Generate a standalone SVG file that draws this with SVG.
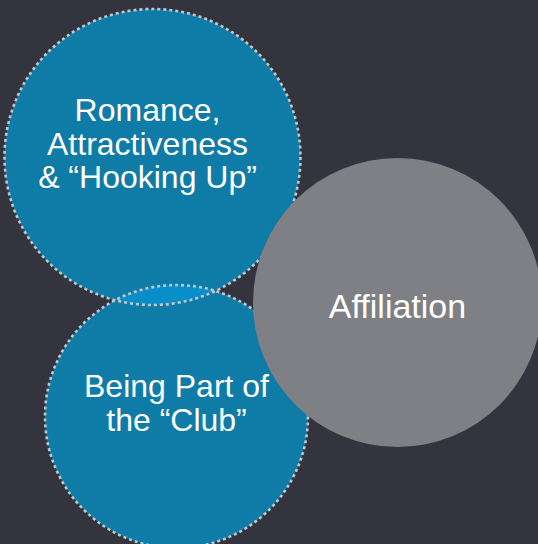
<svg xmlns="http://www.w3.org/2000/svg" width="538" height="544" viewBox="0 0 538 544">
  <style>
    .lbl { font-family: "Liberation Sans", Arial, sans-serif; fill: #ffffff; text-anchor: middle; }
    .blue { fill: #0f7ba7; }
    .ring { fill: none; stroke: #c4c6c9; stroke-width: 2.6; stroke-dasharray: 3 3; }
  </style>
  <defs>
    <clipPath id="topClip">
      <circle cx="152.5" cy="157" r="148"/>
    </clipPath>
  </defs>
  <rect width="538" height="544" fill="#34343e"/>

  <!-- blue circle fills -->
  <g id="romance">
    <circle class="blue" cx="152.5" cy="157" r="148"/>
  </g>
  <g id="club">
    <circle class="blue" cx="176.5" cy="416.5" r="131.5"/>
  </g>
  <!-- overlap lens -->
  <g id="overlap">
    <circle cx="176.5" cy="416.5" r="131.5" fill="#088fca" clip-path="url(#topClip)"/>
  </g>
  <!-- dotted outlines -->
  <g id="outlines">
    <circle class="ring" cx="152.5" cy="157" r="148"/>
    <circle class="ring" cx="176.5" cy="416.5" r="131.5"/>
  </g>
  <g id="romance-label">
    <text class="lbl" font-size="32" x="147.5" y="121">Romance,</text>
    <text class="lbl" font-size="32" x="147.5" y="155">Attractiveness</text>
    <text class="lbl" font-size="32" x="147.5" y="188">&amp; “Hooking Up”</text>
  </g>
  <g id="club-label">
    <text class="lbl" font-size="32" x="176.5" y="397">Being Part of</text>
    <text class="lbl" font-size="32" x="176.5" y="431">the “Club”</text>
  </g>

  <g id="affiliation">
    <circle cx="397.5" cy="302.5" r="144.5" fill="#7e8085"/>
    <text class="lbl" font-size="34" x="397.5" y="318">Affiliation</text>
  </g>
</svg>
